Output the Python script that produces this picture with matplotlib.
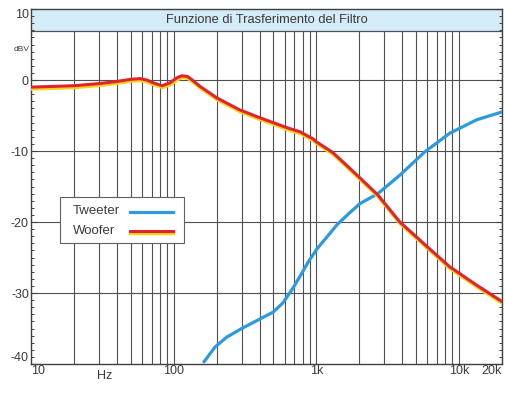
"""
Funzione di trasferimento del filtro: risposta di tweeter e woofer.
"""

import matplotlib
matplotlib.use('Agg')
import matplotlib.pyplot as plt
import matplotlib.transforms as mtransforms
from matplotlib.patches import Rectangle

plt.rcParams['font.family'] = ['Liberation Sans', 'DejaVu Sans']

# Tweeter (Hz, dBV)
tweeter_f = [163, 195, 236, 306, 390, 497, 583, 686, 792, 873, 1009, 1245,
             1393, 1690, 2023, 2700, 3850, 5770, 8600, 13300, 20000]
tweeter_db = [-39.7, -37.6, -36.2, -34.9, -33.8, -32.7, -31.4, -29.3, -27.2, -25.7,
              -23.8, -21.6, -20.4, -18.8, -17.4, -16.0, -13.4, -10.1, -7.5, -5.6, -4.5]

# Woofer (Hz, dBV)
woofer_f = [10, 20, 30, 40, 50, 58, 65, 72, 83, 94, 105, 114, 125, 135, 153,
            200, 290, 400, 620, 770, 950, 1000, 1300, 1530, 2000, 2700, 3850,
            6000, 8600, 13300, 20000]
woofer_db = [-1.0, -0.8, -0.5, -0.2, 0.1, 0.2, 0.0, -0.4, -0.8, -0.4, 0.3, 0.6,
             0.5, 0.0, -0.9, -2.5, -4.2, -5.3, -6.7, -7.3, -8.3, -8.7, -10.2,
             -11.5, -13.7, -16.2, -20.0, -23.5, -26.3, -28.9, -31.2]

x_ticks = [10, 100, 1000, 10000, 20000]
x_labels = ['10', '100', '1k', '10k', '20k']
y_ticks = [10, 0, -10, -20, -30, -40]
title = 'Funzione di Trasferimento del Filtro'

text_col = '#3a3a3a'
grid_col = '#505050'
blue = '#2b9ae0'
red = '#e3222d'
yellow = '#f2d41c'

fig = plt.figure(figsize=(5.06, 3.93), dpi=100)
ax = fig.add_axes([0.0613, 0.0738, 0.9307, 0.9032])
ax.set_xscale('log')
ax.set_xlim(10, 20000)
ax.set_ylim(-40, 10)

# vertical grid: every 1-9 step of each decade
vgrid = [m * 10 ** d for d in range(1, 5) for m in range(1, 10)]
vgrid = [v for v in vgrid if 10 < v <= 20000]
for v in vgrid:
    ax.plot([v, v], [-40, 6.9], color=grid_col, lw=0.8, zorder=0.5)
for h in [0, -10, -20, -30]:
    ax.axhline(h, color=grid_col, lw=0.8, zorder=0.5)

# title band
band = Rectangle((0, (6.9 + 40) / 50), 1, 1 - (6.9 + 40) / 50,
                 transform=ax.transAxes, facecolor='#d4ebf8',
                 edgecolor='none', zorder=1)
ax.add_patch(band)
ax.axhline(6.9, color=grid_col, lw=0.9, zorder=1.5)
ax.text(0.5, (8.45 + 40) / 50, title, transform=ax.transAxes,
        ha='center', va='center', fontsize=9.3, color=text_col, zorder=2)

# curves
ax.plot(tweeter_f, tweeter_db, color=blue, lw=2.3,
        solid_capstyle='round', solid_joinstyle='round', zorder=3)
shift = mtransforms.offset_copy(ax.transData, fig=fig, x=0.3, y=-1.3, units='points')
ax.plot(woofer_f, woofer_db, color=yellow, lw=2.5, transform=shift,
        solid_capstyle='round', solid_joinstyle='round', zorder=3)
ax.plot(woofer_f, woofer_db, color=red, lw=2.2,
        solid_capstyle='round', solid_joinstyle='round', zorder=4)

# axes, ticks
for s in ax.spines.values():
    s.set_color('#404040')
    s.set_linewidth(1.0)
ax.set_xticks(x_ticks)
ax.set_xticklabels(x_labels)
ax.xaxis.set_minor_locator(matplotlib.ticker.NullLocator())
ax.tick_params(axis='x', length=0, pad=1, labelsize=9, labelcolor=text_col)
xl = ax.get_xticklabels()
xl[0].set_ha('left')
xl[-1].set_ha('right')
ax.set_yticks(y_ticks)
ax.set_yticklabels([str(v) for v in y_ticks])
ax.set_yticks(range(-40, 11), minor=True)
ax.tick_params(axis='y', which='major', direction='in', length=4, width=0.8,
               pad=1.5, labelsize=9, labelcolor=text_col, right=True, color='#404040')
ax.tick_params(axis='y', which='minor', direction='in', length=2.5, width=0.7,
               right=True, color='#404040')
yl = ax.get_yticklabels()
yl[0].set_va('top')
yl[-1].set_va('bottom')
ax.text(-0.004, (4.3 + 40) / 50, 'dBV', transform=ax.transAxes,
        ha='right', va='center', fontsize=6, color=text_col)
ax.text(33, -40.9, 'Hz', ha='center', va='top', fontsize=9, color=text_col)

# legend box: labels on the left, line samples on the right
box = Rectangle((0.0616, 0.341), 0.2634, 0.129, transform=ax.transAxes,
                facecolor='white', edgecolor='#606060', lw=0.8, zorder=5)
ax.add_patch(box)
ax.text(0.089, 0.430, 'Tweeter', transform=ax.transAxes, ha='left',
        va='center', fontsize=9.5, color=text_col, zorder=6)
ax.text(0.089, 0.374, 'Woofer', transform=ax.transAxes, ha='left',
        va='center', fontsize=9.5, color=text_col, zorder=6)
ax.plot([0.210, 0.301], [0.428, 0.428], transform=ax.transAxes,
        color=blue, lw=2.3, zorder=6)
leg_shift = mtransforms.offset_copy(ax.transAxes, fig=fig, y=-1.0, units='points')
ax.plot([0.210, 0.301], [0.374, 0.374], transform=leg_shift,
        color=yellow, lw=2.5, zorder=6)
ax.plot([0.210, 0.301], [0.374, 0.374], transform=ax.transAxes,
        color=red, lw=2.2, zorder=7)

fig.savefig('out.png', dpi=100)
